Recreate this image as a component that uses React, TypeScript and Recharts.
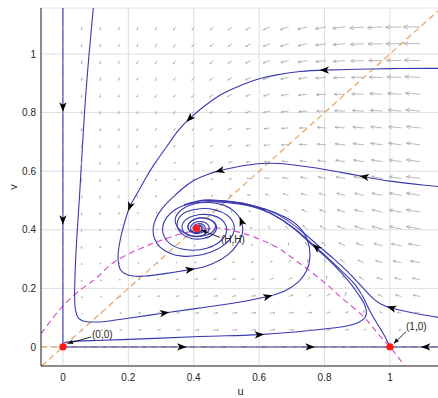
import React from 'react';
import { ComposedChart, XAxis, YAxis, CartesianGrid, Line, Scatter, Label } from 'recharts';

// ---------- axes ----------
const X_DOMAIN: [number, number] = [-0.067, 1.153];
const Y_DOMAIN: [number, number] = [-0.065, 1.157];
const TICKS = [0, 0.2, 0.4, 0.6, 0.8, 1];
const TICK_LABELS = ['0', '0.2', '0.4', '0.6', '0.8', '1'];
const X_LABEL = 'u';
const Y_LABEL = 'v';

// ---------- direction field (quiver) ----------
const GRID = [0, 0.0575, 0.115, 0.1725, 0.23, 0.2875, 0.345, 0.4025, 0.46, 0.5175, 0.575, 0.6325, 0.69, 0.7475, 0.805, 0.8625, 0.92, 0.9775, 1.035, 1.0925];
// angle (deg, 0 = right, 90 = up) per row of GRID (v), column of GRID (u)
const ANGLES = [
  [0, 0, 0, 0, 0, 0, 0, 0, 0, 0, 0, 0, 0, 0, 0, 0, 0, 0, 180, 180],
  [270, 0, 5, 5, 4, 4, 4, 3, 3, 3, 3, 4, 4, 5, 6, 9, 20, 138, 170, 174],
  [270, 310, 0, 6, 7, 7, 7, 7, 7, 7, 8, 8, 10, 12, 16, 29, 90, 154, 167, 172],
  [270, 276, 329, 0, 7, 9, 9, 10, 10, 11, 12, 14, 17, 23, 36, 77, 137, 158, 166, 170],
  [270, 268, 284, 333, 0, 8, 11, 13, 14, 16, 18, 22, 29, 42, 75, 124, 150, 161, 166, 170],
  [270, 266, 266, 285, 332, 0, 10, 15, 19, 22, 27, 35, 51, 80, 119, 144, 156, 163, 167, 170],
  [270, 265, 260, 261, 277, 322, 0, 16, 25, 34, 45, 63, 92, 121, 141, 153, 160, 164, 167, 170],
  [270, 265, 258, 254, 253, 258, 279, 0, 46, 69, 91, 113, 131, 144, 153, 159, 163, 166, 168, 170],
  [270, 265, 258, 251, 246, 241, 233, 216, 180, 153, 147, 148, 148, 154, 160, 163, 165, 167, 169, 170],
  [270, 266, 258, 251, 244, 236, 227, 214, 196, 180, 170, 165, 163, 164, 165, 166, 168, 169, 170, 171],
  [270, 266, 258, 251, 243, 235, 226, 215, 202, 190, 180, 174, 171, 169, 169, 169, 170, 170, 171, 172],
  [270, 266, 258, 251, 243, 235, 227, 217, 205, 194, 186, 180, 176, 173, 172, 171, 171, 171, 172, 172],
  [270, 266, 259, 252, 244, 236, 228, 219, 209, 199, 191, 185, 180, 177, 175, 174, 173, 173, 173, 173],
  [270, 266, 260, 253, 245, 237, 230, 221, 212, 203, 195, 189, 184, 180, 177, 176, 175, 174, 174, 174],
  [270, 267, 260, 253, 246, 239, 231, 223, 214, 206, 198, 192, 187, 183, 180, 178, 177, 176, 175, 175],
  [270, 267, 261, 254, 247, 240, 232, 224, 216, 208, 201, 195, 190, 186, 182, 180, 178, 177, 176, 176],
  [270, 267, 261, 254, 248, 241, 234, 226, 218, 211, 204, 198, 192, 188, 184, 182, 180, 179, 178, 177],
  [270, 267, 262, 255, 249, 242, 235, 228, 220, 213, 206, 200, 194, 190, 186, 184, 182, 180, 179, 178],
  [270, 267, 262, 256, 249, 242, 236, 229, 222, 215, 208, 202, 197, 192, 188, 185, 183, 181, 180, 179],
  [270, 267, 262, 256, 250, 243, 237, 230, 224, 217, 210, 204, 199, 194, 190, 187, 185, 183, 181, 180],
];
// arrow magnitude per grid point
const MAGNITUDES = [
  [0, 1.5, 2.5, 3, 3.5, 4, 4.5, 5, 5, 5, 5, 5, 4.5, 4, 3.5, 3, 2, 0.5, 1, 3],
  [2, 1, 2, 2.5, 3, 3.5, 4, 4.5, 5, 5, 5, 5, 5, 4.5, 4, 3.5, 2.5, 1.5, 2.5, 4],
  [2, 1, 1.5, 2, 2.5, 3, 3.5, 4, 4.5, 5, 5, 5, 5, 4.5, 4, 3.5, 3, 3, 4, 5],
  [2, 1.5, 1, 1.5, 2, 2.5, 3, 3.5, 4, 4, 4.5, 4.5, 4.5, 4, 4, 4, 4, 5, 6, 7],
  [2, 2, 1.5, 1, 1.5, 2, 2.5, 3, 3, 3.5, 3.5, 3.5, 3.5, 3.5, 3.5, 4, 5, 6, 7, 8],
  [2.5, 2, 1.5, 1, 1, 1, 1.3, 1.8, 2, 2.5, 2.5, 3, 3, 3.5, 4.5, 5.5, 6.5, 7.5, 8.5, 10],
  [2.5, 2.5, 2, 1.5, 1, 0.7, 0.5, 0.8, 1.2, 1.5, 2, 2.5, 3, 4, 5.5, 6.5, 8, 9, 10.5, 12],
  [2.5, 2.5, 2, 1.5, 1, 0.7, 0.4, 0.3, 0.6, 1, 2, 3, 4, 5.5, 7, 8, 9.5, 11, 12.5, 14],
  [3, 3, 2.5, 2, 1.5, 1.2, 1, 0.8, 1, 1.5, 2.5, 3.5, 5, 6, 7, 8, 9.5, 11, 12.5, 14],
  [3, 3, 3, 2.5, 2, 2, 1.5, 1.5, 2, 2.5, 3.5, 4.5, 5.5, 6.5, 7.5, 8.5, 9.5, 11, 12.5, 14],
  [3, 3, 3, 3, 2.5, 2.5, 2, 2, 2.5, 3, 4, 5, 6, 7, 8, 9, 10, 11, 12.5, 14],
  [3, 3, 3, 3, 3, 2.5, 2.5, 2.5, 3, 3.5, 4.5, 5.5, 6.5, 7.5, 8.5, 9.5, 10.5, 11.5, 12.5, 14],
  [3, 3, 3, 3, 3, 3, 3, 3, 3.5, 4, 5, 6, 7, 8, 9, 10, 11, 12, 13, 14],
  [3, 3, 3, 3, 3, 3, 3, 3.5, 4, 4.5, 5, 6, 7, 8, 9, 10, 11, 12, 13, 14],
  [3, 3, 3, 3, 3, 3, 3.5, 3.5, 4, 4.5, 5.5, 6.5, 7.5, 8.5, 9.5, 10.5, 11.5, 12.5, 13.5, 14.5],
  [3, 3, 3, 3, 3, 3.5, 3.5, 4, 4.5, 5, 5.5, 6.5, 7.5, 9, 10, 11, 12, 13, 14, 15],
  [3, 3, 3, 3, 3, 3.5, 3.5, 4, 4.5, 5, 6, 7, 8, 9, 10.5, 11.5, 12.5, 13.5, 14.5, 15.5],
  [3, 3, 3, 3, 3.5, 3.5, 4, 4, 4.5, 5, 6, 7, 8, 9.5, 10.5, 12, 13, 14, 15, 16],
  [3, 3, 3, 3, 3.5, 3.5, 4, 4, 4.5, 5, 6, 7, 8.5, 9.5, 11, 12, 13.5, 14.5, 15.5, 16.5],
  [3, 3, 3, 3, 3.5, 3.5, 4, 4, 4.5, 5, 6, 7, 8.5, 10, 11, 12.5, 14, 15, 16, 17],
];

// ---------- nullclines ----------
const NULL_DIAG = [{ u: -0.065, v: -0.065 }, { u: 1.153, v: 1.153 }];
const NULL_ZERO = [{ u: -0.067, v: 0 }, { u: 1.153, v: 0 }];
const NULL_HUMP = [
  { u: -0.067, v: 0.045 }, { u: 0, v: 0.14 }, { u: 0.06, v: 0.2 }, { u: 0.11, v: 0.243 },
  { u: 0.157, v: 0.29 }, { u: 0.239, v: 0.337 }, { u: 0.31, v: 0.368 }, { u: 0.381, v: 0.392 },
  { u: 0.45, v: 0.405 }, { u: 0.49, v: 0.404 }, { u: 0.535, v: 0.393 }, { u: 0.585, v: 0.375 },
  { u: 0.65, v: 0.343 }, { u: 0.7, v: 0.305 }, { u: 0.755, v: 0.26 }, { u: 0.81, v: 0.21 },
  { u: 0.86, v: 0.16 }, { u: 0.918, v: 0.105 }, { u: 0.96, v: 0.05 }, { u: 1.0, v: 0 },
  { u: 1.045, v: -0.065 },
];

// ---------- trajectories ----------
const AXIS_U = [{ u: 0, v: 1.157 }, { u: 0, v: 0 }];
const AXIS_V_LEFT = [{ u: 0, v: 0 }, { u: 1, v: 0 }];
const AXIS_V_RIGHT = [{ u: 1.153, v: 0 }, { u: 1, v: 0 }];
const TRAJ_C = [
  { u: 0.093, v: 1.157 }, { u: 0.08, v: 1.0 }, { u: 0.066, v: 0.8 }, { u: 0.056, v: 0.615 },
  { u: 0.05, v: 0.5 }, { u: 0.044, v: 0.4 }, { u: 0.039, v: 0.3 }, { u: 0.036, v: 0.2 },
  { u: 0.037, v: 0.14 }, { u: 0.045, v: 0.103 }, { u: 0.065, v: 0.088 }, { u: 0.1, v: 0.085 },
  { u: 0.136, v: 0.088 }, { u: 0.2, v: 0.098 }, { u: 0.31, v: 0.116 }, { u: 0.4, v: 0.13 },
  { u: 0.483, v: 0.143 }, { u: 0.56, v: 0.157 }, { u: 0.626, v: 0.172 }, { u: 0.68, v: 0.192 },
  { u: 0.72, v: 0.222 }, { u: 0.745, v: 0.26 }, { u: 0.755, v: 0.304 }, { u: 0.749, v: 0.36 },
  { u: 0.722, v: 0.41 }, { u: 0.68, v: 0.443 }, { u: 0.62, v: 0.47 }, { u: 0.55, v: 0.488 },
  { u: 0.48, v: 0.498 }, { u: 0.43, v: 0.499 }, { u: 0.385, v: 0.49 },
];
const TRAJ_D = [
  { u: 0.003, v: 0.012 }, { u: 0.019, v: 0.018 }, { u: 0.1, v: 0.022 }, { u: 0.2, v: 0.026 },
  { u: 0.3, v: 0.03 }, { u: 0.4, v: 0.035 }, { u: 0.5, v: 0.038 }, { u: 0.6, v: 0.042 },
  { u: 0.7, v: 0.05 }, { u: 0.78, v: 0.059 }, { u: 0.85, v: 0.068 }, { u: 0.9, v: 0.082 },
  { u: 0.922, v: 0.098 }, { u: 0.928, v: 0.118 }, { u: 0.922, v: 0.146 }, { u: 0.905, v: 0.177 },
  { u: 0.882, v: 0.213 }, { u: 0.85, v: 0.255 }, { u: 0.805, v: 0.305 }, { u: 0.765, v: 0.345 },
  { u: 0.705, v: 0.405 }, { u: 0.633, v: 0.458 }, { u: 0.553, v: 0.49 }, { u: 0.47, v: 0.501 },
  { u: 0.42, v: 0.5 }, { u: 0.37, v: 0.485 },
];
const TRAJ_R = [
  { u: 1.153, v: 0.1 }, { u: 1.1, v: 0.11 }, { u: 1.05, v: 0.121 }, { u: 1.005, v: 0.133 },
  { u: 0.972, v: 0.147 }, { u: 0.948, v: 0.166 }, { u: 0.928, v: 0.189 }, { u: 0.905, v: 0.217 },
  { u: 0.875, v: 0.252 }, { u: 0.83, v: 0.299 }, { u: 0.79, v: 0.337 }, { u: 0.73, v: 0.395 },
  { u: 0.66, v: 0.45 }, { u: 0.58, v: 0.483 }, { u: 0.5, v: 0.497 }, { u: 0.44, v: 0.498 },
];
const TRAJ_SEP = [
  { u: 1, v: 0 }, { u: 0.985, v: 0.035 }, { u: 0.963, v: 0.076 }, { u: 0.94, v: 0.12 },
  { u: 0.92, v: 0.165 }, { u: 0.895, v: 0.21 }, { u: 0.861, v: 0.25 }, { u: 0.81, v: 0.304 },
  { u: 0.77, v: 0.344 }, { u: 0.709, v: 0.404 }, { u: 0.637, v: 0.455 }, { u: 0.556, v: 0.485 },
  { u: 0.474, v: 0.495 }, { u: 0.43, v: 0.495 }, { u: 0.385, v: 0.488 }, { u: 0.345, v: 0.47 },
  { u: 0.318, v: 0.443 }, { u: 0.305, v: 0.41 }, { u: 0.31, v: 0.375 }, { u: 0.33, v: 0.35 },
  { u: 0.36, v: 0.335 }, { u: 0.4, v: 0.33 }, { u: 0.44, v: 0.337 }, { u: 0.475, v: 0.355 },
  { u: 0.497, v: 0.382 }, { u: 0.5, v: 0.41 }, { u: 0.485, v: 0.435 }, { u: 0.455, v: 0.45 },
  { u: 0.42, v: 0.452 }, { u: 0.388, v: 0.443 }, { u: 0.368, v: 0.425 }, { u: 0.365, v: 0.402 },
  { u: 0.378, v: 0.385 }, { u: 0.4, v: 0.377 }, { u: 0.425, v: 0.38 }, { u: 0.443, v: 0.393 },
  { u: 0.447, v: 0.41 }, { u: 0.435, v: 0.425 }, { u: 0.415, v: 0.428 }, { u: 0.397, v: 0.42 },
  { u: 0.39, v: 0.405 }, { u: 0.398, v: 0.393 }, { u: 0.415, v: 0.392 }, { u: 0.425, v: 0.402 },
  { u: 0.418, v: 0.413 }, { u: 0.406, v: 0.41 }, { u: 0.409, v: 0.405 },
];
const TRAJ_E = [
  { u: 1.153, v: 0.951 }, { u: 1.1, v: 0.951 }, { u: 1.0, v: 0.95 }, { u: 0.9, v: 0.948 },
  { u: 0.8, v: 0.945 }, { u: 0.725, v: 0.94 }, { u: 0.65, v: 0.928 }, { u: 0.606, v: 0.917 },
  { u: 0.572, v: 0.905 }, { u: 0.52, v: 0.881 }, { u: 0.474, v: 0.855 }, { u: 0.43, v: 0.82 },
  { u: 0.388, v: 0.78 }, { u: 0.35, v: 0.735 }, { u: 0.315, v: 0.68 }, { u: 0.28, v: 0.625 },
  { u: 0.25, v: 0.57 }, { u: 0.225, v: 0.52 }, { u: 0.205, v: 0.48 }, { u: 0.19, v: 0.43 },
  { u: 0.178, v: 0.38 }, { u: 0.17, v: 0.33 }, { u: 0.169, v: 0.295 }, { u: 0.175, v: 0.265 },
  { u: 0.19, v: 0.25 }, { u: 0.215, v: 0.242 }, { u: 0.25, v: 0.242 }, { u: 0.29, v: 0.247 },
  { u: 0.34, v: 0.255 }, { u: 0.388, v: 0.264 }, { u: 0.43, v: 0.273 }, { u: 0.47, v: 0.291 },
  { u: 0.505, v: 0.315 }, { u: 0.53, v: 0.345 }, { u: 0.548, v: 0.385 }, { u: 0.546, v: 0.428 },
  { u: 0.525, v: 0.462 }, { u: 0.49, v: 0.485 }, { u: 0.445, v: 0.493 }, { u: 0.4, v: 0.488 },
  { u: 0.365, v: 0.47 }, { u: 0.345, v: 0.443 }, { u: 0.348, v: 0.413 }, { u: 0.37, v: 0.39 },
  { u: 0.405, v: 0.378 }, { u: 0.44, v: 0.382 }, { u: 0.462, v: 0.398 }, { u: 0.465, v: 0.42 },
  { u: 0.447, v: 0.436 }, { u: 0.418, v: 0.44 }, { u: 0.393, v: 0.43 }, { u: 0.382, v: 0.413 },
  { u: 0.388, v: 0.397 }, { u: 0.405, v: 0.39 }, { u: 0.423, v: 0.395 }, { u: 0.428, v: 0.408 },
  { u: 0.418, v: 0.415 }, { u: 0.408, v: 0.411 }, { u: 0.409, v: 0.405 },
];
const TRAJ_F = [
  { u: 1.153, v: 0.547 }, { u: 1.1, v: 0.553 }, { u: 1.0, v: 0.566 }, { u: 0.922, v: 0.581 },
  { u: 0.85, v: 0.596 }, { u: 0.78, v: 0.61 }, { u: 0.7, v: 0.622 }, { u: 0.627, v: 0.627 },
  { u: 0.56, v: 0.62 }, { u: 0.52, v: 0.612 }, { u: 0.48, v: 0.602 }, { u: 0.44, v: 0.588 },
  { u: 0.4, v: 0.568 }, { u: 0.365, v: 0.54 }, { u: 0.335, v: 0.51 }, { u: 0.305, v: 0.475 },
  { u: 0.285, v: 0.44 }, { u: 0.276, v: 0.405 }, { u: 0.28, v: 0.37 }, { u: 0.298, v: 0.34 },
  { u: 0.327, v: 0.32 }, { u: 0.365, v: 0.31 }, { u: 0.41, v: 0.312 }, { u: 0.455, v: 0.325 },
  { u: 0.495, v: 0.35 }, { u: 0.52, v: 0.385 }, { u: 0.522, v: 0.42 }, { u: 0.502, v: 0.45 },
  { u: 0.465, v: 0.468 }, { u: 0.42, v: 0.472 }, { u: 0.38, v: 0.462 }, { u: 0.355, v: 0.44 },
  { u: 0.35, v: 0.41 }, { u: 0.365, v: 0.385 }, { u: 0.393, v: 0.37 }, { u: 0.43, v: 0.37 },
  { u: 0.458, v: 0.384 }, { u: 0.47, v: 0.407 }, { u: 0.46, v: 0.428 }, { u: 0.435, v: 0.44 },
  { u: 0.405, v: 0.437 }, { u: 0.385, v: 0.42 }, { u: 0.385, v: 0.4 }, { u: 0.4, v: 0.388 },
  { u: 0.422, v: 0.39 }, { u: 0.435, v: 0.403 }, { u: 0.428, v: 0.418 }, { u: 0.41, v: 0.42 },
  { u: 0.398, v: 0.41 }, { u: 0.403, v: 0.398 }, { u: 0.415, v: 0.4 }, { u: 0.413, v: 0.41 },
  { u: 0.409, v: 0.405 },
];
const TRAJECTORIES = [AXIS_U, AXIS_V_LEFT, AXIS_V_RIGHT, TRAJ_C, TRAJ_D, TRAJ_R, TRAJ_E, TRAJ_F, TRAJ_SEP];

// direction markers on trajectories (angle in degrees, 0 = right, 90 = up)
const TRAJ_ARROWS = [
  { u: 0, v: 0.82, ang: 270 }, { u: 0, v: 0.434, ang: 270 },
  { u: 0.363, v: 0, ang: 0 }, { u: 0.755, v: 0, ang: 0 }, { u: 1.11, v: 0, ang: 180 },
  { u: 0.8, v: 0.945, ang: 180 }, { u: 0.388, v: 0.78, ang: 225 }, { u: 0.205, v: 0.48, ang: 250 },
  { u: 0.388, v: 0.264, ang: 9 }, { u: 0.546, v: 0.428, ang: 110 },
  { u: 0.922, v: 0.581, ang: 170 }, { u: 0.48, v: 0.602, ang: 195 },
  { u: 0.31, v: 0.116, ang: 8 }, { u: 0.626, v: 0.172, ang: 14 },
  { u: 0.6, v: 0.042, ang: 3 }, { u: 0.775, v: 0.34, ang: 138 }, { u: 1.005, v: 0.133, ang: 164 },
];

// ---------- equilibria and annotations ----------
const EQUILIBRIA = [{ u: 0, v: 0 }, { u: 1, v: 0 }, { u: 0.409, v: 0.405 }];
const ANNOT_TEXT = [
  { u: 0.089, v: 0.042, text: '(0,0)' },
  { u: 1.049, v: 0.069, text: '(1,0)' },
  { u: 0.483, v: 0.368, text: '(H,H)' },
];
const ANNOT_LINES = [
  [{ u: 0.086, v: 0.034 }, { u: 0.015, v: 0.012 }],
  [{ u: 1.049, v: 0.052 }, { u: 1.012, v: 0.012 }],
  [{ u: 0.48, v: 0.374 }, { u: 0.424, v: 0.398 }],
];
const ANNOT_HEADS = [
  { u: 0.015, v: 0.012, ang: 197 },
  { u: 1.012, v: 0.012, ang: 226 },
  { u: 0.424, v: 0.398, ang: 160 },
];

// ---------- styles ----------
const FONT = "'Liberation Sans', Arial, Helvetica, sans-serif";
const TEXT_COLOR = '#262626';
const BLUE = '#3838b0';
const QUIVER_COLOR = '#a8a8a8';

const QUIVER_DATA = ANGLES.flatMap((row, j) =>
  row.map((ang, k) => ({ u: GRID[k], v: GRID[j], ang, mag: MAGNITUDES[j][k] }))
);

const QuiverShape = (p: any) => {
  const { cx, cy, payload } = p;
  const L = payload.mag;
  if (!L || cx == null || cy == null) return <g />;
  const a = (payload.ang * Math.PI) / 180;
  const ex = cx + L * Math.cos(a);
  const ey = cy - L * Math.sin(a);
  const h = Math.max(1.1, L * 0.3);
  const b1 = a + Math.PI - 0.42;
  const b2 = a + Math.PI + 0.42;
  return (
    <g stroke={QUIVER_COLOR} strokeWidth={0.8} fill="none">
      <line x1={cx} y1={cy} x2={ex} y2={ey} />
      <polyline
        points={`${ex + h * Math.cos(b1)},${ey - h * Math.sin(b1)} ${ex},${ey} ${ex + h * Math.cos(b2)},${ey - h * Math.sin(b2)}`}
      />
    </g>
  );
};

const HeadShape = (p: any) => {
  const { cx, cy, payload } = p;
  return (
    <polygon
      points="5,0 -4.5,-3.6 -2,0 -4.5,3.6"
      transform={`translate(${cx},${cy}) rotate(${-payload.ang})`}
      fill="#000"
    />
  );
};

const SmallHeadShape = (p: any) => {
  const { cx, cy, payload } = p;
  return (
    <polygon
      points="0,0 -5,-2.2 -5,2.2"
      transform={`translate(${cx},${cy}) rotate(${-payload.ang})`}
      fill="#111"
    />
  );
};

const DotShape = (p: any) => {
  const { cx, cy } = p;
  return <circle cx={cx} cy={cy} r={3.6} fill="#ff1a1a" />;
};

const TextShape = (p: any) => {
  const { cx, cy, payload } = p;
  return (
    <text x={cx} y={cy} dy="0.35em" fontSize={10} fontFamily={FONT} fill={TEXT_COLOR}>
      {payload.text}
    </text>
  );
};

export default function App() {
  return (
    <div style={{ position: 'absolute', left: 0, top: 0, background: '#fff' }}>
      <ComposedChart width={438} height={398} margin={{ top: 8, right: -2, bottom: 0, left: 0 }}>
        <CartesianGrid stroke="#dedede" strokeWidth={1} />
        <XAxis
          type="number"
          dataKey="u"
          domain={X_DOMAIN}
          ticks={TICKS}
          tickFormatter={(t: number) => TICK_LABELS[TICKS.indexOf(t)] ?? String(t)}
          allowDataOverflow
          height={32}
          tickSize={0}
          tickMargin={8}
          tickLine={false}
          axisLine={{ stroke: TEXT_COLOR }}
          tick={{ fill: TEXT_COLOR, fontSize: 10, fontFamily: FONT }}
          interval={0}
        >
          <Label
            content={(props: any) => {
              const vb = props.viewBox || { x: 41, y: 366, width: 399, height: 32 };
              return (
                <text x={vb.x + vb.width / 2} y={vb.y + vb.height - 3} textAnchor="middle" fontSize={11} fontFamily={FONT} fill={TEXT_COLOR}>
                  {X_LABEL}
                </text>
              );
            }}
          />
        </XAxis>
        <XAxis xAxisId="top" orientation="top" type="number" domain={X_DOMAIN} height={0} tick={false} tickLine={false} axisLine={{ stroke: TEXT_COLOR }} allowDataOverflow />
        <YAxis
          type="number"
          dataKey="v"
          domain={Y_DOMAIN}
          ticks={TICKS}
          tickFormatter={(t: number) => TICK_LABELS[TICKS.indexOf(t)] ?? String(t)}
          allowDataOverflow
          width={41}
          tickSize={0}
          tickMargin={5}
          tickLine={false}
          axisLine={{ stroke: TEXT_COLOR }}
          tick={{ fill: TEXT_COLOR, fontSize: 10, fontFamily: FONT }}
          interval={0}
        >
          <Label
            content={(props: any) => {
              const vb = props.viewBox || { x: 0, y: 8, width: 41, height: 358 };
              const x = vb.x + 13;
              const y = vb.y + vb.height / 2;
              return (
                <text x={x} y={y} dy="0.35em" textAnchor="middle" transform={`rotate(-90 ${x} ${y})`} fontSize={11} fontFamily={FONT} fill={TEXT_COLOR}>
                  {Y_LABEL}
                </text>
              );
            }}
          />
        </YAxis>

        <Scatter data={QUIVER_DATA} dataKey="v" shape={QuiverShape} isAnimationActive={false} />

        <Line data={NULL_ZERO} dataKey="v" type="linear" stroke="#e8a358" strokeWidth={1.2} strokeDasharray="6 4" dot={false} activeDot={false} isAnimationActive={false} />
        <Line data={NULL_DIAG} dataKey="v" type="linear" stroke="#e8a358" strokeWidth={1.2} strokeDasharray="6 4" dot={false} activeDot={false} isAnimationActive={false} />
        <Line data={NULL_HUMP} dataKey="v" type="natural" stroke="#d84fcf" strokeWidth={1.2} strokeDasharray="6 4" dot={false} activeDot={false} isAnimationActive={false} />

        {TRAJECTORIES.map((t, i) => (
          <Line key={'t' + i} data={t} dataKey="v" type="natural" stroke={BLUE} strokeWidth={1.1} dot={false} activeDot={false} isAnimationActive={false} />
        ))}

        <Scatter data={TRAJ_ARROWS} dataKey="v" shape={HeadShape} isAnimationActive={false} />

        {ANNOT_LINES.map((l, i) => (
          <Line key={'a' + i} data={l} dataKey="v" type="linear" stroke="#111" strokeWidth={0.9} dot={false} activeDot={false} isAnimationActive={false} />
        ))}
        <Scatter data={ANNOT_HEADS} dataKey="v" shape={SmallHeadShape} isAnimationActive={false} />
        <Scatter data={EQUILIBRIA} dataKey="v" shape={DotShape} isAnimationActive={false} />
        <Scatter data={ANNOT_TEXT} dataKey="v" shape={TextShape} isAnimationActive={false} />
      </ComposedChart>
    </div>
  );
}
